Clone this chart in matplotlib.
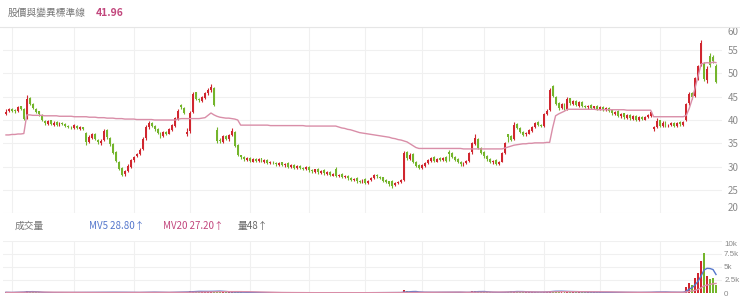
import numpy as np
import pandas as pd
import matplotlib
matplotlib.use("Agg")
import matplotlib.pyplot as plt

plt.rcParams['font.family'] = ['Noto Sans CJK TC', 'DejaVu Sans']

# ---------------- data ----------------
closes = [
    41.8, 42.3, 42.0, 41.9, 42.8, 42.4, 40.2, 44.6, 43.5, 42.6,
    41.8, 41.2, 40.0, 39.3, 39.8, 39.1, 39.4, 39.0, 39.3, 39.2,
    38.8, 38.6, 38.4, 38.9, 38.2, 38.5, 38.0, 35.2, 36.4, 37.0,
    36.0, 35.2, 35.6, 37.6, 36.3, 34.8, 33.0, 31.2, 29.6, 28.3,
    29.0, 30.2, 31.5, 32.0, 32.8, 33.6, 36.0, 38.6, 39.3, 38.7,
    38.0, 37.2, 36.6, 37.4, 37.0, 38.0, 38.9, 40.4, 42.0, 42.8,
    41.6, 37.4, 41.6, 45.6, 44.6, 44.2, 44.9, 45.8, 46.5, 47.0,
    43.3, 35.6, 35.4, 36.5, 36.0, 36.8, 37.6, 34.5, 32.4, 32.0,
    31.6, 31.8, 31.2, 31.6, 31.3, 31.7, 31.1, 31.4, 30.8, 31.0,
    30.9, 30.5, 30.8, 30.4, 30.6, 30.0, 30.3, 29.8, 30.1, 29.7,
    29.5, 29.9, 29.2, 29.0, 29.4, 28.8, 29.1, 28.6, 28.8, 28.2,
    28.4, 28.0, 28.3, 27.8, 28.0, 27.5, 27.2, 27.4, 26.9, 26.8,
    27.2, 26.6, 27.0, 27.6, 28.2, 27.9, 27.6, 27.0, 26.8, 26.2,
    25.9, 26.6, 26.8, 27.2, 33.0, 31.8, 32.6, 31.0, 30.2, 29.8,
    30.3, 30.8, 31.4, 31.9, 31.2, 31.7, 31.5, 31.9, 31.3, 32.8,
    32.0, 31.5, 31.0, 30.5, 30.8, 31.3, 33.0, 35.0, 36.2, 34.0,
    33.0, 32.2, 31.6, 31.0, 31.3, 30.6, 31.0, 33.0, 35.0, 36.4,
    35.8, 39.0, 38.2, 37.4, 36.8, 37.2, 37.8, 38.5, 39.4, 39.0,
    38.7, 41.2, 42.0, 46.5, 45.2, 43.5, 42.6, 43.4, 42.5, 44.6,
    43.6, 44.0, 43.2, 43.8, 43.0, 42.8, 43.1, 42.6, 42.9, 42.4,
    42.7, 42.3, 42.5, 42.0, 41.4, 41.8, 40.9, 41.3, 40.6, 41.0,
    40.4, 40.8, 40.1, 40.6, 40.2, 40.7, 41.0, 41.8, 38.4, 39.8,
    38.8, 39.4, 38.9, 39.0, 39.3, 38.8, 39.4, 39.1, 39.6, 43.4,
    45.6, 45.0, 49.0, 51.5, 56.5, 48.8, 51.0, 51.8, 52.6, 48.2,
]
opens = [
    41.2, 41.9, 42.4, 42.1, 41.9, 42.9, 42.3, 40.4, 44.8, 43.4,
    42.4, 41.9, 41.0, 39.8, 39.2, 39.9, 39.0, 39.5, 38.9, 39.4,
    39.1, 38.7, 38.5, 38.3, 38.8, 38.1, 38.4, 37.2, 35.3, 36.2,
    37.1, 35.8, 35.0, 35.8, 37.9, 36.2, 34.9, 33.2, 31.0, 29.8,
    28.4, 29.1, 30.0, 31.4, 32.2, 32.7, 33.7, 36.1, 38.4, 39.4,
    38.8, 38.1, 37.3, 36.5, 37.5, 37.1, 37.9, 38.8, 40.3, 43.2,
    42.6, 36.9, 37.6, 41.8, 45.9, 44.4, 44.0, 44.8, 45.7, 46.4,
    46.8, 37.8, 35.8, 35.3, 36.6, 35.9, 36.7, 37.4, 34.6, 32.5,
    32.1, 31.5, 31.9, 31.1, 31.7, 31.2, 31.8, 31.0, 31.5, 30.7,
    31.1, 30.8, 30.4, 30.9, 30.3, 30.7, 29.9, 30.4, 29.7, 30.2,
    29.8, 29.4, 30.0, 29.3, 28.9, 29.5, 28.7, 29.2, 28.5, 28.9,
    28.1, 29.6, 27.9, 28.4, 27.7, 28.1, 27.6, 27.1, 27.5, 27.0,
    26.7, 27.3, 26.5, 27.1, 27.5, 28.3, 27.8, 27.7, 27.1, 26.9,
    26.9, 26.0, 26.5, 26.7, 27.2, 33.1, 31.7, 32.7, 31.1, 30.3,
    29.7, 30.2, 30.7, 31.3, 32.0, 31.1, 31.8, 31.4, 32.0, 33.2,
    32.9, 32.1, 31.6, 31.1, 30.4, 30.7, 31.2, 33.1, 34.9, 36.0,
    34.1, 33.1, 32.3, 31.7, 30.9, 31.4, 30.5, 31.1, 32.9, 36.9,
    36.5, 36.0, 39.1, 38.3, 37.5, 36.9, 37.1, 37.7, 38.4, 39.6,
    38.9, 38.8, 41.3, 42.1, 47.3, 45.0, 43.6, 42.5, 43.5, 42.4,
    44.7, 43.5, 44.1, 43.1, 43.9, 43.1, 42.7, 43.2, 42.5, 43.0,
    42.3, 42.8, 42.2, 42.6, 42.1, 41.3, 41.9, 40.8, 41.4, 40.5,
    41.1, 40.3, 40.9, 40.0, 40.7, 40.1, 40.6, 40.9, 38.0, 38.5,
    39.9, 38.7, 39.5, 38.8, 38.9, 39.4, 38.7, 39.5, 39.0, 40.0,
    43.6, 45.8, 45.2, 48.8, 52.0, 52.0, 48.5, 53.8, 53.5, 51.6,
]
highs = [
    42.3, 42.6, 42.6, 42.3, 43.0, 43.1, 42.5, 45.3, 44.9, 43.6,
    42.6, 42.0, 41.2, 40.0, 40.1, 40.1, 39.7, 39.8, 39.6, 39.6,
    39.3, 38.9, 38.7, 39.1, 38.9, 38.8, 38.6, 37.4, 36.7, 37.3,
    37.3, 36.0, 35.9, 38.0, 38.1, 36.4, 35.0, 33.4, 31.2, 29.9,
    29.3, 30.5, 31.7, 32.3, 33.0, 33.9, 36.3, 38.9, 39.7, 39.5,
    38.9, 38.3, 37.4, 37.7, 37.6, 38.2, 39.1, 40.6, 42.3, 43.4,
    42.8, 38.2, 41.9, 46.1, 46.0, 44.7, 45.1, 46.0, 46.8, 47.8,
    47.0, 38.4, 36.1, 36.7, 36.8, 37.0, 38.2, 37.6, 34.8, 32.6,
    32.2, 32.0, 32.0, 31.8, 31.9, 31.9, 31.9, 31.6, 31.6, 31.2,
    31.3, 30.9, 31.0, 31.1, 30.8, 30.9, 30.5, 30.6, 30.3, 30.4,
    29.9, 30.1, 30.2, 29.4, 29.6, 29.7, 29.3, 29.4, 29.0, 29.0,
    28.6, 29.9, 28.5, 28.6, 28.2, 28.3, 27.8, 27.6, 27.7, 27.2,
    27.4, 27.5, 27.2, 27.8, 28.5, 28.5, 28.0, 27.8, 27.3, 27.0,
    27.1, 26.8, 27.0, 27.4, 33.3, 33.4, 32.9, 32.9, 31.3, 30.5,
    30.5, 31.0, 31.6, 32.1, 32.2, 31.9, 32.0, 32.1, 32.2, 33.5,
    33.1, 32.3, 31.8, 31.3, 31.0, 31.5, 33.2, 35.3, 37.0, 36.2,
    34.3, 33.3, 32.5, 31.9, 31.5, 31.6, 31.2, 33.2, 35.2, 37.0,
    36.7, 39.6, 39.3, 38.4, 37.6, 37.4, 38.0, 38.7, 39.6, 39.8,
    39.1, 41.4, 42.3, 46.8, 47.5, 45.2, 43.8, 43.6, 43.7, 44.9,
    44.8, 44.2, 44.3, 44.0, 44.1, 43.3, 43.3, 43.4, 43.1, 43.2,
    42.9, 43.0, 42.7, 42.8, 42.3, 42.0, 42.1, 41.5, 41.6, 41.2,
    41.3, 41.0, 41.1, 40.8, 40.9, 40.9, 41.2, 42.0, 38.8, 40.4,
    40.1, 39.7, 39.7, 39.2, 39.5, 39.6, 39.6, 39.7, 39.8, 43.6,
    46.0, 46.0, 49.3, 51.8, 57.2, 52.5, 51.5, 54.3, 54.0, 52.0,
]
lows = [
    41.0, 41.7, 41.8, 41.6, 41.7, 42.1, 39.9, 40.2, 43.2, 42.3,
    41.5, 40.9, 39.8, 39.0, 39.0, 38.9, 38.8, 38.8, 38.7, 39.0,
    38.6, 38.3, 38.1, 38.1, 38.0, 37.9, 37.8, 34.7, 35.0, 35.9,
    35.7, 34.8, 34.6, 35.5, 36.0, 34.5, 32.7, 30.9, 29.3, 28.0,
    28.1, 28.8, 29.8, 31.1, 32.0, 32.5, 33.5, 35.8, 38.1, 38.4,
    37.7, 36.9, 36.2, 36.3, 36.7, 36.9, 37.7, 38.6, 40.1, 42.3,
    41.2, 36.6, 37.2, 41.5, 44.2, 43.8, 43.8, 44.5, 45.4, 46.1,
    43.0, 35.0, 35.0, 35.1, 35.7, 35.6, 36.5, 34.2, 32.2, 31.7,
    31.3, 31.3, 31.0, 30.9, 31.0, 31.0, 30.9, 30.8, 30.6, 30.5,
    30.6, 30.2, 30.2, 30.1, 30.0, 29.7, 29.7, 29.5, 29.5, 29.4,
    29.2, 29.2, 28.9, 28.7, 28.7, 28.5, 28.5, 28.3, 28.3, 27.9,
    27.9, 27.7, 27.7, 27.5, 27.5, 27.2, 26.9, 26.9, 26.6, 26.5,
    26.5, 26.3, 26.3, 26.9, 27.3, 27.6, 27.3, 26.8, 26.5, 25.9,
    25.4, 25.8, 26.3, 26.5, 27.0, 31.5, 31.5, 30.7, 29.9, 29.5,
    29.5, 30.0, 30.5, 31.1, 31.0, 30.9, 31.2, 31.2, 31.0, 31.2,
    31.8, 31.2, 30.8, 30.1, 30.2, 30.5, 31.0, 32.8, 34.6, 33.8,
    32.8, 31.9, 31.3, 30.7, 30.6, 30.3, 30.3, 30.9, 32.7, 35.2,
    35.5, 35.7, 38.0, 37.2, 36.5, 36.6, 36.9, 37.5, 38.2, 38.7,
    38.4, 38.5, 41.0, 41.9, 44.9, 43.2, 42.2, 42.3, 42.2, 42.2,
    43.3, 43.3, 42.9, 42.8, 42.7, 42.5, 42.4, 42.3, 42.3, 42.1,
    42.1, 42.0, 41.9, 41.8, 41.1, 41.0, 40.6, 40.5, 40.3, 40.3,
    40.1, 40.0, 39.8, 39.8, 39.9, 39.9, 40.4, 40.7, 37.6, 38.2,
    38.5, 38.5, 38.6, 38.5, 38.7, 38.5, 38.5, 38.8, 38.8, 39.8,
    43.3, 44.6, 44.9, 48.5, 51.6, 48.3, 48.0, 51.4, 52.2, 47.9,
]
std_line = (
    [36.8, 36.8, 36.9, 36.9, 37.0, 37.0, 37.1]
    + [41.1, 41.1, 41.0, 41.0, 41.0, 41.0, 40.9, 40.9, 40.9, 40.9,
       40.9, 40.8, 40.8, 40.8, 40.8, 40.8, 40.7, 40.7, 40.7, 40.7]
    + [40.7, 40.6, 40.6, 40.6, 40.5, 40.5, 40.5, 40.4, 40.4, 40.4,
       40.3, 40.3, 40.3, 40.2, 40.2, 40.2, 40.2]
    + [40.1] * 6 + [40.0] * 8
    + [40.2, 40.3, 40.3, 40.3, 40.3, 40.3, 40.3, 40.3, 40.4, 40.5]
    + [41.0, 41.5]
    + [41.1, 40.8, 40.6, 40.5, 40.4, 40.4, 40.3, 40.2, 40.0]
    + [38.9] * 10 + [38.8] * 12 + [38.7] * 11
    + [38.5, 38.3, 38.2, 38.0, 37.9, 37.7, 37.5, 37.3]
    + [37.2, 37.1, 37.0, 36.9, 36.8, 36.7, 36.6, 36.5, 36.4, 36.3,
       36.1, 36.0, 35.8, 35.7, 35.5, 35.3]
    + [34.9, 34.5, 34.1, 33.9]
    + [33.9] * 14 + [33.8] * 14
    + [34.0, 34.2, 34.4, 34.6, 34.7, 34.8, 34.9, 34.9, 35.0, 35.0,
       35.1, 35.1, 35.1]
    + [35.1, 35.2, 35.2, 38.3, 40.9, 41.3, 41.6, 41.9]
    + [42.3] * 10 + [42.2] * 10 + [42.1] * 9
    + [40.7] * 11
    + [41.0, 42.5, 44.5, 47.0, 49.5, 52.0, 52.2, 52.3, 52.2, 52.4, 52.3]
)
volumes = (
    [120, 90, 80, 150, 110, 200, 260]
    + [420, 250, 160, 120, 100]
    + [80, 70, 90, 60, 75, 85, 65, 70, 95, 60, 55, 80, 70, 65, 90]
    + [180, 120, 100, 90, 110, 140, 170, 120, 100]
    + [130, 150, 140, 110, 90, 100, 120, 90, 80, 100, 160]
    + [210, 150, 120, 100, 90, 110, 80, 90, 120, 150, 180, 200]
    + [160, 140, 260, 300, 380, 340, 260, 280, 300, 320, 350, 330, 400, 360]
    + [200, 150, 140, 160, 180, 190, 120, 90, 80, 70, 85, 60, 75, 65, 55, 70, 60, 50]
    + [55, 60, 45, 50, 65, 55, 70, 50, 45, 60, 55, 50, 65, 45, 55, 60, 50, 45, 55, 65]
    + [90, 60, 55, 50, 45, 60, 55, 50, 65, 70, 60, 55, 65, 80, 70, 60, 55, 65, 75,
       100, 80, 70, 90, 520, 300]
    + [260, 200, 150, 120, 110, 130, 140, 120, 110, 130, 150, 120, 110, 170, 160,
       130, 120, 110, 100, 120, 140, 380]
    + [420, 250, 200, 150, 130, 110, 120, 100, 110, 160, 220, 260, 300, 280, 320,
       240, 200, 180, 150, 170, 190, 160, 150]
    + [230, 280, 420, 380, 320, 300, 260, 280, 330, 270, 240, 220, 200, 190, 170,
       160, 150, 140, 130, 140]
    + [120, 130, 110, 120, 100, 110, 120, 130, 100, 90, 110, 100, 120, 130, 110,
       140, 150, 260, 210, 170, 150, 160, 140, 120, 130, 110, 140, 220]
    + [1200, 2000, 1600, 2800, 3800, 6200, 7600, 3200, 2600, 2800, 1500]
)
price_ticks = [20, 25, 30, 35, 40, 45, 50, 55, 60]
vol_ticks = [0, 2500, 5000, 7500, 10000]
vol_tick_labels = ['0', '2.5k', '5k', '7.5k', '10k']
month_starts = [2, 23, 43, 62, 82, 102, 121, 140, 161, 181, 200, 220]

title_text = '股價與變異標準線'
title_value = '41.96'
vol_title = '成交量'
mv5_text = 'MV5 28.80↑'
mv20_text = 'MV20 27.20↑'
vol_now = '量48↑'

# ---------------- drawing ----------------
RED = '#d0262f'
GREEN = '#74b52c'
PINK = '#d98ea8'
BLUE = '#5577cc'
GRID = '#f0f0f0'
LABEL = '#8a8a8a'

o = np.array(opens); c = np.array(closes)
h = np.array(highs); l = np.array(lows)
v = np.array(volumes, dtype=float)
n = len(c)
x = np.arange(n)
up = c >= o
cols = np.where(up, RED, GREEN)

W, H = 740, 302
fig = plt.figure(figsize=(W / 100, H / 100), dpi=100)

def fy(py):
    return 1 - py / H

px_left, px_right = 3, 722
ax = fig.add_axes([px_left / W, fy(213.3), (px_right - px_left) / W, (213.3 - 26.7) / H])
axv = fig.add_axes([px_left / W, fy(293), (px_right - px_left) / W, (293 - 240.7) / H])

step = (716 - 6) / (n - 1)
xl = (-(6 - px_left) / step, (n - 1) + (px_right - 716) / step)

for a in (ax, axv):
    for s in a.spines.values():
        s.set_visible(False)
    a.set_xlim(*xl)
    a.set_xticks([])
    a.yaxis.tick_right()
    a.tick_params(axis='y', length=0, labelcolor=LABEL)
    for m in month_starts:
        a.axvline(m, color=GRID, lw=0.8, zorder=0)

ax.tick_params(axis='y', pad=4, labelsize=7)
axv.tick_params(axis='y', pad=1.5, labelsize=5.8)

# price panel
ax.set_ylim(20, 60)
ax.set_yticks(price_ticks)
ax.set_yticklabels([str(t) for t in price_ticks])
for t in price_ticks:
    ax.axhline(t, color=GRID, lw=0.8, zorder=0)
labs = ax.get_yticklabels()
labs[-1].set_va('top')
labs[0].set_va('bottom')

ax.vlines(x, l, h, colors=cols, lw=0.8, zorder=2)
body_h = np.maximum(np.abs(c - o), 0.15)
ax.bar(x, body_h, bottom=np.minimum(o, c), width=0.65, color=cols, lw=0, zorder=3)
ax.plot(x, std_line, color=PINK, lw=1.0, zorder=4)

# volume panel
axv.set_ylim(0, 10000)
axv.set_yticks(vol_ticks)
axv.set_yticklabels(vol_tick_labels)
for lab in axv.get_yticklabels():
    lab.set_family(['Liberation Sans', 'DejaVu Sans'])
for t in vol_ticks:
    axv.axhline(t, color=GRID, lw=0.8, zorder=0)
vl = axv.get_yticklabels()
vl[-1].set_va('top')
axv.bar(x, v, width=0.65, color=cols, lw=0, zorder=2)
vs = pd.Series(v)
axv.plot(x, vs.rolling(5, min_periods=1).mean(), color=BLUE, lw=1.0, zorder=3)
axv.plot(x, vs.rolling(20, min_periods=1).mean(), color=PINK, lw=1.0, zorder=3)

# separator under title
fig.add_artist(plt.Line2D([0, 1], [fy(26.5), fy(26.5)], color='#e6e6e6', lw=0.8))

# header texts
fig.text(8 / W, fy(12.5), title_text, fontsize=7, color='#777777', va='center', ha='left')
fig.text(96 / W, fy(12.5), title_value, fontsize=7.5, color='#c2477d', va='center', ha='left',
         fontweight='bold')
fig.text(15 / W, fy(226), vol_title, fontsize=7, color='#777777', va='center', ha='left')
fig.text(89 / W, fy(226), mv5_text, fontsize=7, color=BLUE, va='center', ha='left')
fig.text(163 / W, fy(226), mv20_text, fontsize=7, color='#c2477d', va='center', ha='left')
fig.text(238 / W, fy(226), vol_now, fontsize=7, color='#666666', va='center', ha='left')

fig.savefig('out.png', dpi=100)
